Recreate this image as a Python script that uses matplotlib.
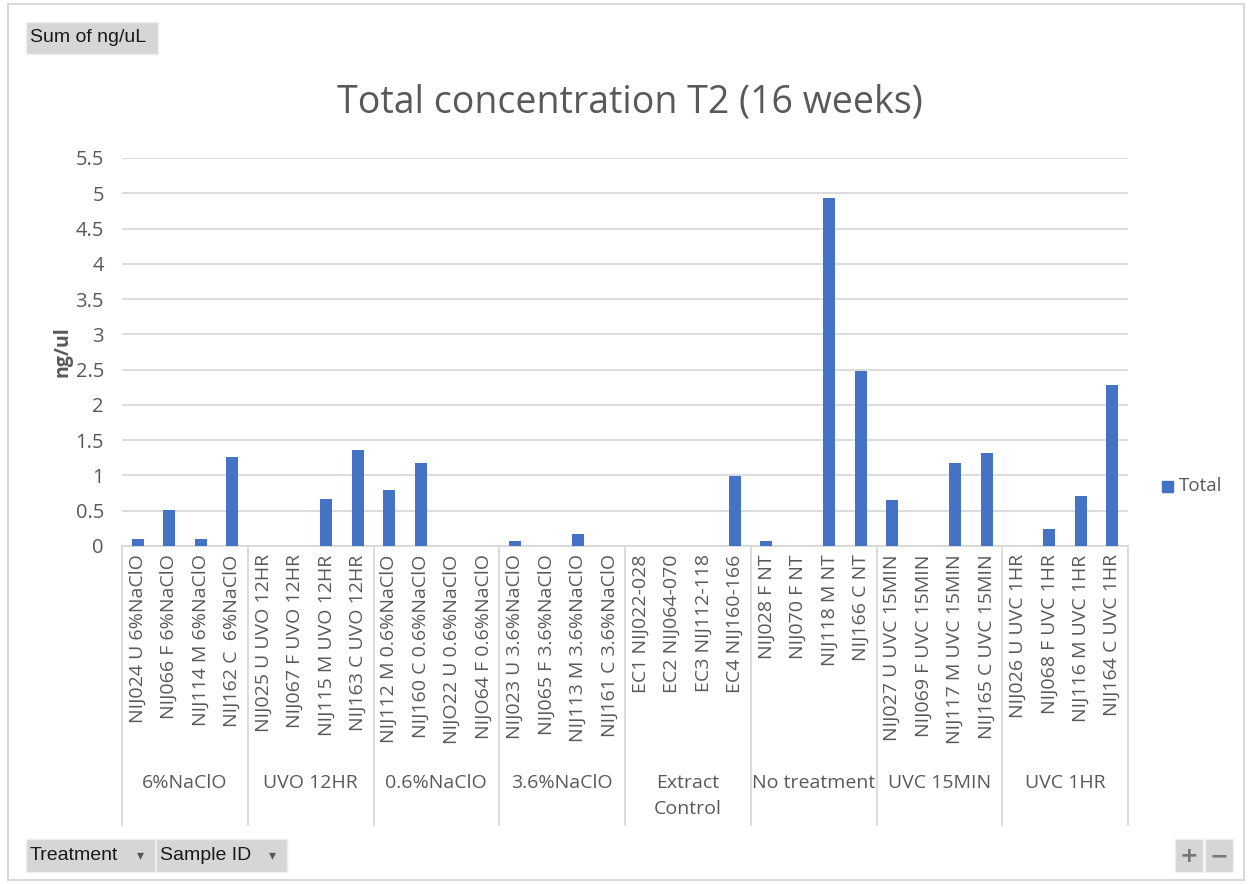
import numpy as np
import matplotlib.pyplot as plt
from matplotlib.patches import Rectangle

plt.rcParams['font.family'] = ['Open Sans', 'DejaVu Sans']

treatments = ['6%NaClO', 'UVO 12HR', '0.6%NaClO', '3.6%NaClO',
              'Extract\nControl', 'No treatment', 'UVC 15MIN', 'UVC 1HR']
sample_ids = [
    'NIJ024 U 6%NaClO', 'NIJ066 F 6%NaClO', 'NIJ114 M 6%NaClO', 'NIJ162 C  6%NaClO',
    'NIJ025 U UVO 12HR', 'NIJ067 F UVO 12HR', 'NIJ115 M UVO 12HR', 'NIJ163 C UVO 12HR',
    'NIJ112 M 0.6%NaClO', 'NIJ160 C 0.6%NaClO', 'NIJO22 U 0.6%NaClO', 'NIJO64 F 0.6%NaClO',
    'NIJ023 U 3.6%NaClO', 'NIJ065 F 3.6%NaClO', 'NIJ113 M 3.6%NaClO', 'NIJ161 C 3.6%NaClO',
    'EC1 NIJ022-028', 'EC2 NIJ064-070', 'EC3 NIJ112-118', 'EC4 NIJ160-166',
    'NIJ028 F NT', 'NIJ070 F NT', 'NIJ118 M NT', 'NIJ166 C NT',
    'NIJ027 U UVC 15MIN', 'NIJ069 F UVC 15MIN', 'NIJ117 M UVC 15MIN', 'NIJ165 C UVC 15MIN',
    'NIJ026 U UVC 1HR', 'NIJ068 F UVC 1HR', 'NIJ116 M UVC 1HR', 'NIJ164 C UVC 1HR',
]
totals = [0.10, 0.51, 0.10, 1.26,
          0.0, 0.0, 0.67, 1.36,
          0.79, 1.18, 0.0, 0.0,
          0.07, 0.0, 0.17, 0.0,
          0.0, 0.0, 0.0, 0.99,
          0.07, 0.0, 4.93, 2.48,
          0.65, 0.0, 1.18, 1.32,
          0.0, 0.24, 0.71, 2.28]
group_size = 4

txt = '#595959'
grid = '#D9D9D9'
blue = '#4472C4'

fig = plt.figure(figsize=(12.5, 8.84), dpi=100)
ax = fig.add_axes([0.0976, 0.3824, 0.9024 - 0.0976, 0.8213 - 0.3824])

x = np.arange(len(totals))
ax.bar(x, totals, width=0.38, color=blue, zorder=3)
ax.set_xlim(-0.5, len(totals) - 0.5)
ax.set_ylim(0, 5.5)
ax.set_yticks(np.arange(0, 5.51, 0.5))
ax.set_yticklabels(['0', '0.5', '1', '1.5', '2', '2.5', '3', '3.5', '4', '4.5', '5', '5.5'])
ax.yaxis.grid(True, color=grid, lw=1.3)
ax.set_axisbelow(True)
for s in ['top', 'right', 'left']:
    ax.spines[s].set_visible(False)
ax.spines['bottom'].set_color(grid)
ax.spines['bottom'].set_linewidth(1.3)
ax.tick_params(axis='y', length=0, pad=13, labelsize=14.5, labelcolor=txt)
ax.set_xticks(x)
ax.set_xticklabels(sample_ids, rotation=90, fontsize=14, color=txt, va='top', ha='center')
ax.tick_params(axis='x', length=0, pad=6)
ax.set_ylabel('ng/ul', fontsize=14, color=txt, fontweight='bold', labelpad=2)

# group separators and labels under the axis
tr = ax.get_xaxis_transform()
depth = -(825 - 546) / 388
for b in np.arange(-0.5, len(totals), group_size):
    ax.plot([b, b], [0, depth], color=grid, lw=1.3, transform=tr, clip_on=False)
for i, name in enumerate(treatments):
    cx = i * group_size + (group_size - 1) / 2
    ax.text(cx, -(774 - 546) / 388, name, transform=tr, ha='center', va='top',
            fontsize=14, color=txt, linespacing=1.55)

fig.text(0.504, 1 - 103 / 884, 'Total concentration T2 (16 weeks)', ha='center', va='center',
         fontsize=27, color=txt)

# legend
fig.patches.append(Rectangle((1162 / 1250, 1 - 492 / 884), 11 / 1250, 11 / 884,
                             transform=fig.transFigure, color=blue))
fig.text(1179 / 1250, 1 - 486 / 884, 'Total', fontsize=13.5, color=txt, va='center')

# chart border
fig.patches.append(Rectangle((8 / 1250, 4 / 884), 1236 / 1250, 876 / 884, transform=fig.transFigure,
                             fill=False, edgecolor='#D9D9D9', lw=1.5))


def button(x0, y0, w, h, label, arrow=False, size=14):
    fig.patches.append(Rectangle((x0 / 1250, 1 - (y0 + h) / 884), w / 1250, h / 884,
                                 transform=fig.transFigure, facecolor='#D6D6D6',
                                 edgecolor='#EEEEEE', lw=1))
    fig.text((x0 + 4) / 1250, 1 - (y0 + h / 2) / 884, label, fontsize=size,
             color='#1a1a1a', va='center', family=['Liberation Sans', 'DejaVu Sans'])
    if arrow:
        fig.text((x0 + w - 15) / 1250, 1 - (y0 + h / 2) / 884, '\u25be', fontsize=10,
                 color='#555555', va='center', ha='center', family='DejaVu Sans')


button(26, 22, 132, 32, 'Sum of ng/uL')
button(26, 839, 129, 33, 'Treatment', arrow=True)
button(156, 839, 131, 33, 'Sample ID', arrow=True)
for xb, sym in [(1175, '+'), (1205, '\u2212')]:
    fig.patches.append(Rectangle((xb / 1250, 1 - 872 / 884), 28 / 1250, 33 / 884,
                                 transform=fig.transFigure, facecolor='#D6D6D6',
                                 edgecolor='#EEEEEE', lw=1))
    fig.text((xb + 14) / 1250, 1 - 856 / 884, sym, fontsize=16, fontweight='bold',
             color='#777777', ha='center', va='center', family='DejaVu Sans')

fig.savefig('out.png', dpi=100)
